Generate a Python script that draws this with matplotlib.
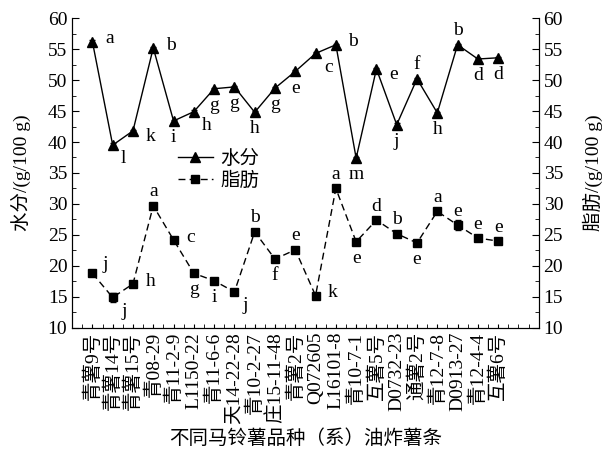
import matplotlib
matplotlib.use("Agg")
import matplotlib.pyplot as plt
from matplotlib.ticker import MultipleLocator
import numpy as np

plt.rcParams['font.family'] = ['Liberation Serif', 'Noto Sans CJK SC']
plt.rcParams['axes.unicode_minus'] = False

categories = ['青薯9号', '青薯14号', '青薯15号', '青08-29', '青11-2-9', 'L1150-22',
              '青11-6-6', '天14-22-28', '青10-2-27', '庄15-11-48', '青薯2号', 'Q072605',
              'L16101-8', '青10-7-1', '互薯5号', 'D0732-23', '通薯2号', '青12-7-8',
              'D0913-27', '青12-4-4', '互薯6号']

water = [56.2, 39.5, 41.8, 55.2, 43.4, 44.9, 48.6, 48.9, 44.8, 48.7, 51.4, 54.3,
         55.7, 37.4, 51.8, 42.8, 50.2, 44.7, 55.7, 53.4, 53.6]
water_err = [0.2, 0.3, 0.2, 0.2, 0.2, 0.2, 0.2, 0.2, 0.2, 0.2, 0.2, 0.2,
             0.2, 0.2, 0.2, 0.2, 0.2, 0.2, 0.2, 0.2, 0.2]
water_letters = ['a', 'l', 'k', 'b', 'i', 'h', 'g', 'g', 'h', 'g', 'e', 'c',
                 'b', 'm', 'e', 'j', 'f', 'h', 'b', 'd', 'd']

fat = [18.8, 14.9, 17.1, 29.7, 24.2, 18.8, 17.6, 15.8, 25.5, 21.1, 22.6, 15.2,
       32.5, 23.9, 27.4, 25.2, 23.7, 28.8, 26.6, 24.5, 24.0]
fat_err = [0.3, 0.7, 0.3, 0.3, 0.3, 0.3, 0.3, 0.3, 0.3, 0.3, 0.3, 0.3,
           0.3, 0.3, 0.3, 0.3, 0.3, 0.3, 0.8, 0.3, 0.3]
fat_letters = ['j', 'j', 'h', 'a', 'c', 'g', 'i', 'j', 'b', 'f', 'e', 'k',
               'a', 'e', 'd', 'b', 'e', 'a', 'e', 'e', 'e']

# label placement offsets in points (dx, dy)
R = (9, 2); B = (0, -12); A = (0, 10); BR = (6, -10); AR = (7, 6); RB = (9, -4)
water_pos = [R, BR, RB, R, B, BR, B, B, B, B, B, BR,
             R, B, RB, B, A, B, A, B, B]
fat_pos = [AR, BR, R, A, R, B, B, BR, A, B, A, R,
           A, B, A, A, B, A, A, A, A]

x = np.arange(len(categories))

fig = plt.figure(figsize=(6.06, 4.65), dpi=100)
ax = fig.add_axes([0.119, 0.295, 0.770, 0.666])
ax2 = ax.twinx()

lw, = ax.plot(x, water, '-', color='black', lw=1.0, marker='^', ms=7, label='水分')
ax.errorbar(x, water, yerr=water_err, fmt='none', ecolor='black', elinewidth=0.8, capsize=2)
lf, = ax2.plot(x, fat, '--', color='black', lw=1.0, marker='s', ms=5.5, label='脂肪',
               dashes=(5, 3))
ax2.errorbar(x, fat, yerr=fat_err, fmt='none', ecolor='black', elinewidth=0.8, capsize=2)

fs = 14
for xi, v, t, p in zip(x, water, water_letters, water_pos):
    ax.annotate(t, (xi, v), xytext=p, textcoords='offset points', fontsize=fs,
                ha='center' if p[0] == 0 else 'left', va='center')
for xi, v, t, p in zip(x, fat, fat_letters, fat_pos):
    ax2.annotate(t, (xi, v), xytext=p, textcoords='offset points', fontsize=fs,
                 ha='center' if p[0] == 0 else 'left', va='center')

for a in (ax, ax2):
    a.set_ylim(10, 60)
    a.set_xlim(-1, 22)
    a.yaxis.set_major_locator(MultipleLocator(5))
    a.yaxis.set_minor_locator(MultipleLocator(2.5))
    a.spines['top'].set_visible(False)

ax.tick_params(axis='y', which='both', direction='in', labelsize=fs)
ax.tick_params(axis='y', which='major', length=5)
ax.tick_params(axis='y', which='minor', length=3)
ax2.tick_params(axis='y', which='both', direction='in', labelsize=fs)
ax2.tick_params(axis='y', which='major', length=5)
ax2.tick_params(axis='y', which='minor', length=3)

ax.set_xticks(x)
ax.set_xticklabels(categories, rotation=90, fontsize=14)
ax.xaxis.set_minor_locator(MultipleLocator(0.5))
ax.tick_params(axis='x', which='both', direction='in', length=3, pad=3)

ax.set_ylabel('水分/(g/100 g)', fontsize=fs, labelpad=12)
ax2.set_ylabel('脂肪/(g/100 g)', fontsize=fs, labelpad=14)
ax.set_xlabel('不同马铃薯品种（系）油炸薯条', fontsize=fs, labelpad=4)

leg = ax.legend(handles=[lw, lf], loc='upper left', bbox_to_anchor=(0.21, 0.6),
                frameon=False, fontsize=fs, handlelength=1.8, handletextpad=0.4,
                labelspacing=0.2, borderaxespad=0)

fig.savefig('out.png', dpi=100)
